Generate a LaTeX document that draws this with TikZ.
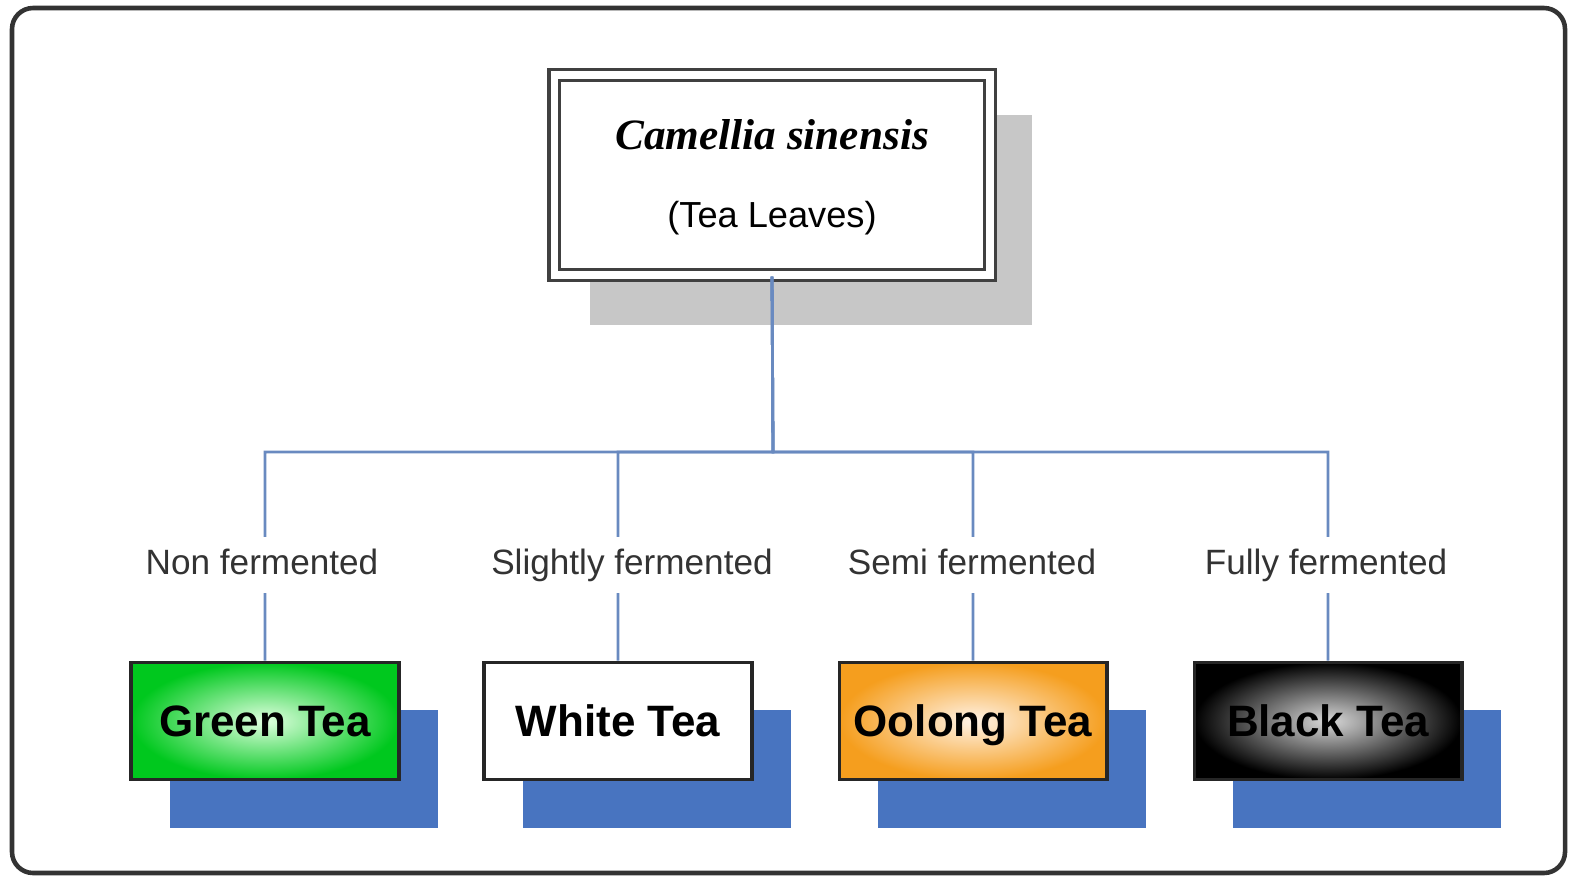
\documentclass[tikz,border=0pt]{standalone}
\usepackage{fontspec}
\setmainfont{Liberation Serif}
\setsansfont{Liberation Sans}
\usetikzlibrary{positioning}
\definecolor{linkblue}{RGB}{105,138,192}
\definecolor{shadowblue}{RGB}{72,116,192}
\definecolor{teagreen}{RGB}{0,200,30}
\definecolor{teaorange}{RGB}{245,158,30}

\begin{document}
\begin{tikzpicture}[x=0.01cm,y=-0.01cm,
	teabox/.style={draw=black!85,line width=1.1pt,minimum width=2.67cm,minimum height=1.17cm,
		text height=9pt,text depth=0pt,
		font=\sffamily\bfseries\fontsize{12.5}{14}\selectfont},
	greenlook/.style={inner color=green!12!white,outer color=teagreen},
	whitelook/.style={fill=white},
	orangelook/.style={inner color=orange!10!white,outer color=teaorange},
	blacklook/.style={inner color=white!85!black,outer color=black},
	stagetext/.style={fill=white,inner sep=3pt,text height=7.5pt,text depth=2.2pt,
		font=\sffamily\fontsize{10}{12}\selectfont,text=black!80},
	link/.style={draw=linkblue,line width=0.8pt}]
	\useasboundingbox (0,0) rectangle (1577,881);
	\draw[black!80,line width=1.3pt,rounded corners=6pt] (12,8) rectangle (1565,873);

	% tea leaves box
	\fill[black!22] (590,115) rectangle (1032,325);
	\node[draw=black!75,fill=white,line width=0.9pt,double=white,double distance=2.2pt,
		minimum width=4.35cm,minimum height=2cm] (plant) at (772,175) {};
	\node[font=\bfseries\itshape\fontsize{12.3}{14}\selectfont] (latin) at (772,135) {Camellia sinensis};
	\node[font=\sffamily\fontsize{10.3}{12}\selectfont] (common) at (772,218) {(Tea Leaves)};
	\coordinate (bus) at (773,452);

	\foreach \x/\name/\look/\txt/\lx/\stage in {
		265/green/greenlook/Green Tea/262/Non fermented,
		618/white/whitelook/White Tea/632/Slightly fermented,
		973/oolong/orangelook/Oolong Tea/972/Semi fermented,
		1328/black/blacklook/Black Tea/1326/Fully fermented} {
		\fill[shadowblue] ({\x-95},710) rectangle ({\x+173},828);
		\node[teabox,\look] (\name) at (\x,721) {\txt};
		\draw[link] (plant.south) -- (bus) -| (\name.north);
		\node[stagetext] (\name stage) at (\lx,565) {\stage};
	};
\end{tikzpicture}
\end{document}
